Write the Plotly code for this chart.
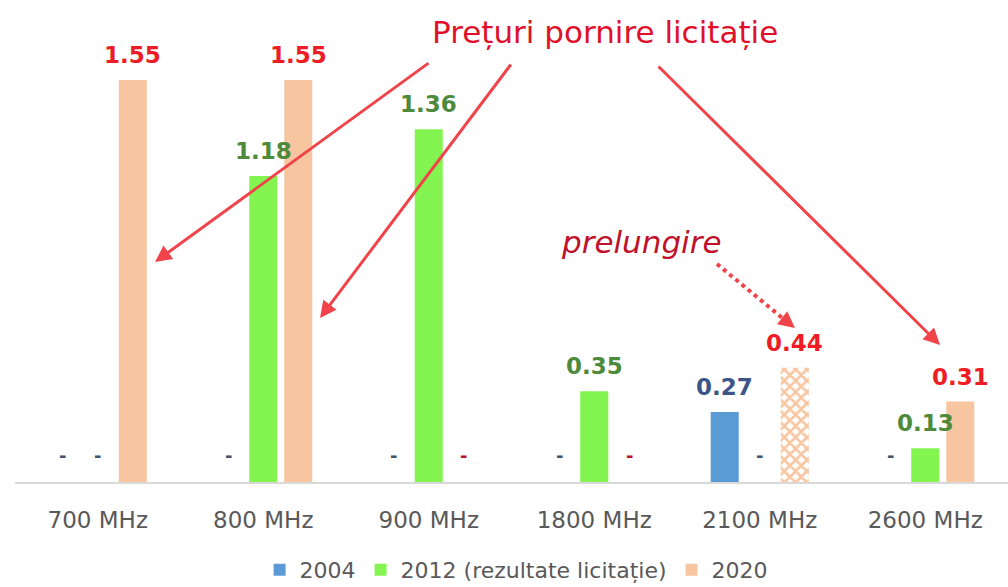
import plotly.graph_objects as go

# ---- data ----
categories = ["700 MHz", "800 MHz", "900 MHz", "1800 MHz", "2100 MHz", "2600 MHz"]
series_names = ["2004", "2012 (rezultate licitație)", "2020"]
v2004 = [None, None, None, None, 0.27, None]
v2012 = [None, 1.18, 1.36, 0.35, None, 0.13]
v2020 = [1.55, 1.55, None, None, 0.44, 0.31]
pattern2020 = ["", "", "", "", "x", ""]

# ---- style ----
W, H = 1008, 587
ML, MR, MT, MB = 15, 0, 30, 105
PW, PH = W - ML - MR, H - MT - MB
BARGAP = 0.365
SLOT = PW / len(categories) * (1 - BARGAP) / 3

bar_colors = ["#5B9BD5", "#84F550", "#F7C6A0"]
label_colors = ["#3E5488", "#4E8A3C", "#EE1C25"]
dash_colors = ["#44546A", "#44546A", "#C0102A"]
FONT = "DejaVu Sans"

fig = go.Figure()
values = [v2004, v2012, v2020]
for k, (name, vals) in enumerate(zip(series_names, values)):
    marker = dict(color=bar_colors[k], line=dict(width=0))
    if k == 2:
        marker["pattern"] = dict(shape=pattern2020, fgcolor=bar_colors[k],
                                 bgcolor="white", size=8, solidity=0.55,
                                 fillmode="replace")
    fig.add_trace(go.Bar(name=name, x=categories, y=vals, marker=marker,
                         hoverinfo="x+y"))

annotations = []
for k, vals in enumerate(values):
    xs = (k - 1) * SLOT
    for c, v in zip(categories, vals):
        if v is None:
            annotations.append(dict(x=c, y=0, xref="x", yref="y", xshift=xs, yshift=27,
                                    text="<b>-</b>", showarrow=False, yanchor="middle",
                                    font=dict(family=FONT, size=18, color=dash_colors[k])))
        else:
            annotations.append(dict(x=c, y=v, xref="x", yref="y", xshift=xs, yshift=25,
                                    text=f"<b>{v:.2f}</b>", showarrow=False, yanchor="middle",
                                    font=dict(family=FONT, size=23, color=label_colors[k])))


def px(xp):
    return (xp - ML) / PW


def py(yp):
    return (H - MB - yp) / PH


RED = "#F0444A"
# callout text
annotations.append(dict(x=px(605), y=py(32), xref="paper", yref="paper",
                        text="Prețuri pornire licitație", showarrow=False,
                        font=dict(family=FONT, size=31, color="#E0102A"),
                        xanchor="center", yanchor="middle"))
annotations.append(dict(x=px(641), y=py(242), xref="paper", yref="paper",
                        text="<i>prelungire</i>", showarrow=False,
                        font=dict(family=FONT, size=31, color="#C0102A"),
                        xanchor="center", yanchor="middle"))
# arrows (tail -> head)
arrows = [((430, 62), (155, 262)), ((512, 63), (320, 318)), ((657, 65), (940, 345))]
for (tx, ty), (hx, hy) in arrows:
    annotations.append(dict(x=px(hx), y=py(hy), xref="paper", yref="paper",
                            ax=tx - hx, ay=ty - hy, text="", showarrow=True,
                            arrowhead=2, arrowsize=1.1, arrowwidth=3, arrowcolor=RED))
# dotted arrow
annotations.append(dict(x=px(795), y=py(328), xref="paper", yref="paper",
                        ax=-10, ay=-8, text="", showarrow=True,
                        arrowhead=2, arrowsize=1.1, arrowwidth=3, arrowcolor=RED))
shapes = [dict(type="line", xref="paper", yref="paper",
               x0=px(717), y0=py(264), x1=px(786), y1=py(321),
               line=dict(color=RED, width=4, dash="dot"))]

fig.update_layout(
    width=W, height=H,
    margin=dict(l=ML, r=MR, t=MT, b=MB, autoexpand=False),
    paper_bgcolor="white", plot_bgcolor="white",
    barmode="group", bargap=BARGAP, bargroupgap=0.2,
    showlegend=True,
    legend=dict(orientation="h", x=0.512, xanchor="center", xref="container",
                y=1 - 570 / H, yanchor="middle", yref="container",
                font=dict(family=FONT, size=22, color="#595959"),
                itemwidth=30, traceorder="normal"),
    annotations=annotations, shapes=shapes,
    font=dict(family=FONT),
)
fig.update_xaxes(showline=True, linecolor="#D9D9D9", linewidth=1.5, ticks="",
                 tickfont=dict(family=FONT, size=23, color="#595959"),
                 ticklabelstandoff=17, showgrid=False, fixedrange=True)
fig.update_yaxes(range=[0, PH / 259.4], visible=False, showgrid=False, zeroline=False,
                 fixedrange=True)

fig.write_html("out.html", config={"displayModeBar": False},
               post_script="document.body.style.margin='0px';document.body.style.overflow='hidden';")
